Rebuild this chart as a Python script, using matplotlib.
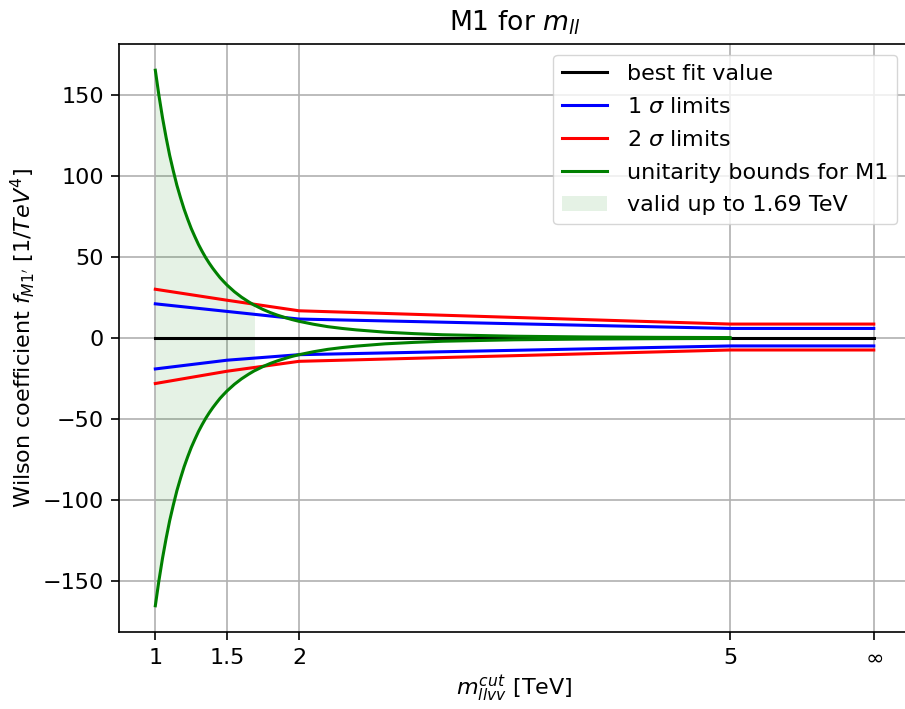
import matplotlib
matplotlib.use("Agg")
import matplotlib.pyplot as plt
import numpy as np

# ---- data ----
x_cut = [1.0, 1.5, 2.0, 5.0, 6.0]          # 6.0 stands for "infinity"
x_ticklabels = ["1", "1.5", "2", "5", r"$\infty$"]
best_fit = [0.0, 0.0, 0.0, 0.0, 0.0]
sigma1_up = [21.1, 16.4, 11.7, 5.9, 5.9]
sigma1_lo = [-19.1, -13.7, -10.3, -4.9, -4.9]
sigma2_up = [30.1, 23.3, 16.8, 8.6, 8.6]
sigma2_lo = [-28.1, -20.5, -14.4, -7.4, -7.4]

unit_x = [1.0, 1.025, 1.05, 1.075, 1.1, 1.125, 1.15, 1.175, 1.2, 1.225, 1.25,
          1.275, 1.3, 1.325, 1.35, 1.375, 1.4, 1.425, 1.45, 1.475, 1.5, 1.55,
          1.6, 1.65, 1.69, 1.7, 1.75, 1.8, 1.85, 1.9, 1.95, 2.0, 2.1, 2.2, 2.3,
          2.4, 2.6, 2.8, 3.0, 3.5, 4.0, 4.5, 5.0]
unit_up = [165.3, 149.8, 136.0, 123.8, 112.7, 103.2, 94.3, 86.7, 79.6, 73.4, 67.6,
           62.6, 57.8, 53.6, 49.7, 46.2, 43.0, 40.1, 37.3, 34.9, 32.6, 28.6,
           25.2, 22.3, 20.2, 19.8, 17.6, 15.7, 14.1, 12.7, 11.4, 10.3, 8.5, 7.0, 5.9,
           5.0, 3.6, 2.7, 2.0, 1.1, 0.64, 0.40, 0.26]
unit_lo = [-v for v in unit_up]
valid_limit = 1.69

s = 1.6
fig = plt.figure(figsize=(9.05, 7.09), dpi=100)
plt.rcParams['font.size'] = 10 * s
ax = fig.add_axes([119.4 / 905, 77 / 709, 790.3 / 905, 588 / 709])

ux = np.array(unit_x)
mask = ux <= valid_limit
lw = 2.2
ax.fill_between(ux[mask], np.array(unit_lo)[mask], np.array(unit_up)[mask],
                color="green", alpha=0.1, linewidth=0, label="valid up to 1.69 TeV", zorder=1)
ax.plot(x_cut, best_fit, color="black", lw=lw, label="best fit value", zorder=2)
ax.plot(x_cut, sigma1_up, color="blue", lw=lw, label=r"1 $\sigma$ limits", zorder=3)
ax.plot(x_cut, sigma1_lo, color="blue", lw=lw, zorder=3)
ax.plot(x_cut, sigma2_up, color="red", lw=lw, label=r"2 $\sigma$ limits", zorder=4)
ax.plot(x_cut, sigma2_lo, color="red", lw=lw, zorder=4)
ax.plot(unit_x, unit_up, color="green", lw=lw, label="unitarity bounds for M1", zorder=5)
ax.plot(unit_x, unit_lo, color="green", lw=lw, zorder=5)

ax.set_xlim(0.75, 6.25)
ax.set_ylim(-181.5, 181.5)
ax.set_xticks(x_cut)
ax.set_xticklabels(x_ticklabels)
ax.set_yticks([-150, -100, -50, 0, 50, 100, 150])
ax.grid(True, color="#b0b0b0", lw=1.2)
ax.set_axisbelow(True)
ax.tick_params(length=3.5 * s, width=1.2, labelsize=10 * s, pad=3.5 * s)
for sp in ax.spines.values():
    sp.set_linewidth(1.2)

ax.set_title(r"M1 for $m_{ll}$", fontsize=12 * s, pad=6 * s)
ax.set_xlabel(r"$m_{llvv}^{cut}$ [TeV]", fontsize=10 * s, labelpad=4)
ax.set_ylabel(r"Wilson coefficient $f_{M1'}$ [$1/TeV^4$]", fontsize=10 * s, labelpad=4)

handles, labels = ax.get_legend_handles_labels()
order = ["best fit value", r"1 $\sigma$ limits", r"2 $\sigma$ limits",
         "unitarity bounds for M1", "valid up to 1.69 TeV"]
hmap = dict(zip(labels, handles))
leg = ax.legend([hmap[l] for l in order], order, loc="upper right",
                bbox_to_anchor=(897 / 905, 1 - 55 / 709), bbox_transform=fig.transFigure,
                borderaxespad=0, fontsize=10 * s, labelspacing=0.58, handletextpad=0.9)

fig.savefig("out.png", dpi=100)
